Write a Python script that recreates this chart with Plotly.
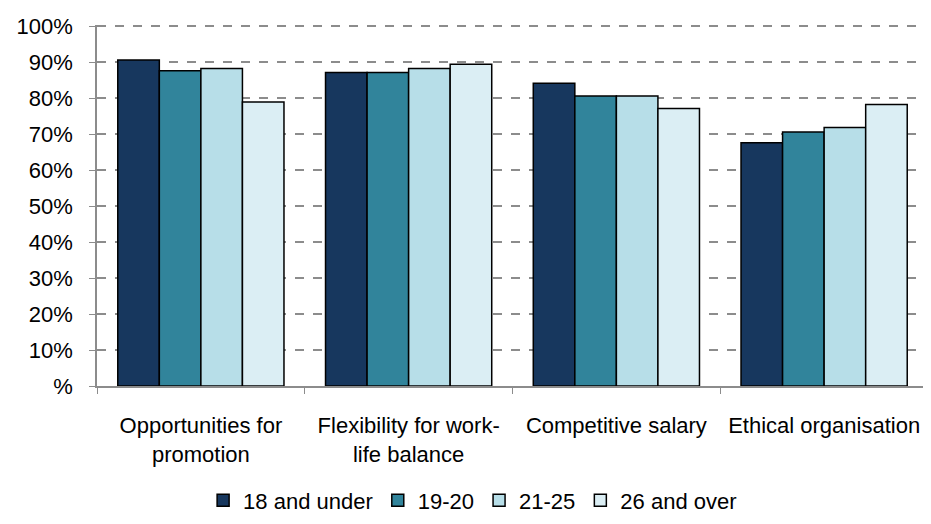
import plotly.graph_objects as go

categories = [
    "Opportunities for<br>promotion",
    "Flexibility for work-<br>life balance",
    "Competitive salary",
    "Ethical organisation",
]
series_names = ["18 and under", "19-20", "21-25", "26 and over"]
under_18 = [90.6, 87.1, 84.1, 67.6]
age_19_20 = [87.6, 87.1, 80.6, 70.6]
age_21_25 = [88.2, 88.2, 80.6, 71.8]
over_26 = [78.9, 89.4, 77.1, 78.2]
tick_values = [0, 10, 20, 30, 40, 50, 60, 70, 80, 90, 100]
tick_labels = ["%", "10%", "20%", "30%", "40%", "50%", "60%", "70%", "80%", "90%", "100%"]

colors = ["#17375E", "#31849B", "#B7DEE8", "#DBEEF4"]

fig = go.Figure()
for name, values, color in zip(series_names, [under_18, age_19_20, age_21_25, over_26], colors):
    fig.add_trace(
        go.Bar(
            x=categories,
            y=values,
            name=name,
            marker=dict(color=color, line=dict(color="#000000", width=1.5)),
        )
    )

# the page body has an 8px margin, so the figure is sized and offset to fit the window
fig.update_layout(
    width=923,
    height=516,
    barmode="group",
    bargap=0.2,
    bargroupgap=0,
    plot_bgcolor="white",
    paper_bgcolor="white",
    font=dict(family="Liberation Sans, Arial, sans-serif", size=22, color="#000000"),
    margin=dict(l=89, r=3, t=17, b=138),
    showlegend=True,
    legend=dict(
        orientation="h",
        x=0.452,
        xanchor="center",
        y=-0.317,
        yanchor="middle",
        font=dict(size=22),
        itemwidth=30,
        traceorder="normal",
    ),
)
fig.update_yaxes(
    range=[0, 100.3],
    tickvals=tick_values,
    ticktext=tick_labels,
    showgrid=True,
    gridcolor="#8C8C8C",
    griddash="dash",
    gridwidth=1.5,
    showline=True,
    linecolor="#8C8C8C",
    linewidth=1.5,
    ticks="outside",
    ticklen=6,
    tickcolor="#8C8C8C",
    ticklabelstandoff=12,
    zeroline=False,
)
fig.update_xaxes(
    showline=True,
    linecolor="#8C8C8C",
    linewidth=1.5,
    ticks="outside",
    tickson="boundaries",
    ticklen=6,
    tickcolor="#8C8C8C",
    ticklabelstandoff=19,
)

fig.write_html("out.html")
